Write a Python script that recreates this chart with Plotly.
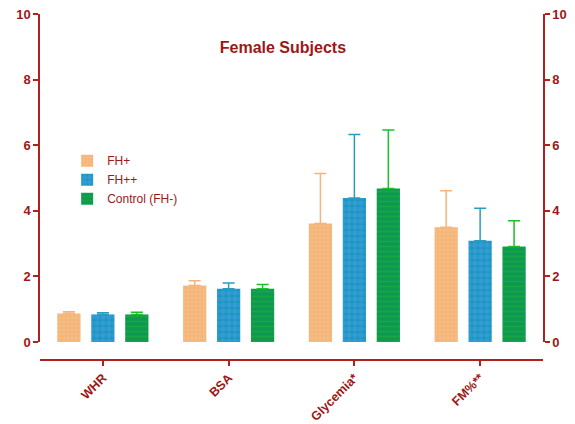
import plotly.graph_objects as go

categories = ["WHR", "BSA", "Glycemia*", "FM%**"]
series_names = ["FH+", "FH++", "Control (FH-)"]
fh_plus = [0.87, 1.72, 3.61, 3.50]
fh_plus_sd = [0.05, 0.15, 1.53, 1.11]
fh_pp = [0.84, 1.62, 4.39, 3.09]
fh_pp_sd = [0.05, 0.18, 1.94, 0.99]
control = [0.84, 1.62, 4.68, 2.91]
control_sd = [0.07, 0.13, 1.78, 0.79]

AX = "#B0201F"
TX = "#9E1717"

styles = [
    dict(bg="#F6BB80", fg="#F0AE72", shape=".", size=4, sol=0.35, err="#F5B57A"),
    dict(bg="#1B98BC", fg="#4E9EF2", shape=".", size=6, sol=0.6, err="#2A9DBE"),
    dict(bg="#0E9950", fg="#1FB335", shape="-", size=5, sol=0.3, err="#1CC02A"),
]
vals = [fh_plus, fh_pp, control]
sds = [fh_plus_sd, fh_pp_sd, control_sd]
offsets = [-0.27, 0.0, 0.27]
bw = 0.185

fig = go.Figure()
for name, v, sd, st, off in zip(series_names, vals, sds, styles, offsets):
    fig.add_trace(go.Bar(
        x=categories, y=v, name=name, width=bw, offset=off - bw / 2,
        marker=dict(color=st["bg"], line=dict(width=0),
                    pattern=dict(shape=st["shape"], fgcolor=st["fg"], bgcolor=st["bg"],
                                 size=st["size"], solidity=st["sol"], fillmode="overlay")),
        error_y=dict(type="data", array=sd, arrayminus=[0] * len(sd), symmetric=False,
                     color=st["err"], thickness=1.5, width=6),
    ))

# dummy for right axis
fig.add_trace(go.Scatter(x=[categories[0]], y=[0], yaxis="y2", mode="markers",
                         marker=dict(opacity=0), showlegend=False, hoverinfo="skip"))

fig.update_layout(
    width=575, height=424,
    margin=dict(l=40, r=32, t=14, b=64, autoexpand=False),
    paper_bgcolor="white", plot_bgcolor="white",
    barmode="overlay",
    font=dict(family="Liberation Sans, Arial, sans-serif", color=TX),
    title=dict(text="<b>Female Subjects</b>", x=0.492, xanchor="center", y=0.889, yanchor="middle",
               font=dict(size=16, color=TX)),
    xaxis=dict(anchor="free", position=0, showline=True, linecolor=AX, linewidth=1.5,
               ticks="outside", ticklen=5, tickcolor=AX, tickwidth=1.5, tickangle=-45,
               tickfont=dict(size=12.5, color=TX, family="Liberation Sans, Arial, sans-serif"),
               showgrid=False, zeroline=False, range=[-0.5, 3.5], automargin=False),
    yaxis=dict(domain=[0.052, 1], range=[0, 10], dtick=2, showline=True, linecolor=AX, linewidth=1.5,
               ticks="outside", ticklen=5, tickcolor=AX, tickwidth=1.5,
               tickfont=dict(size=13, color=TX), showgrid=False, zeroline=False,
               tickprefix="<b>", ticksuffix="</b>", automargin=False),
    yaxis2=dict(overlaying="y", side="right", range=[0, 10], dtick=2, showline=True, linecolor=AX,
                linewidth=1.5, ticks="outside", ticklen=5, tickcolor=AX, tickwidth=1.5,
                tickfont=dict(size=13, color=TX), showgrid=False, zeroline=False,
                tickprefix="<b>", ticksuffix="</b>", automargin=False),
    legend=dict(x=0.054, y=0.618, xanchor="left", yanchor="top", bgcolor="rgba(0,0,0,0)",
                font=dict(size=12, color=TX), tracegroupgap=0),
)
fig.update_xaxes(tickprefix="<b>", ticksuffix="</b>")

fig.write_html("out.html")
